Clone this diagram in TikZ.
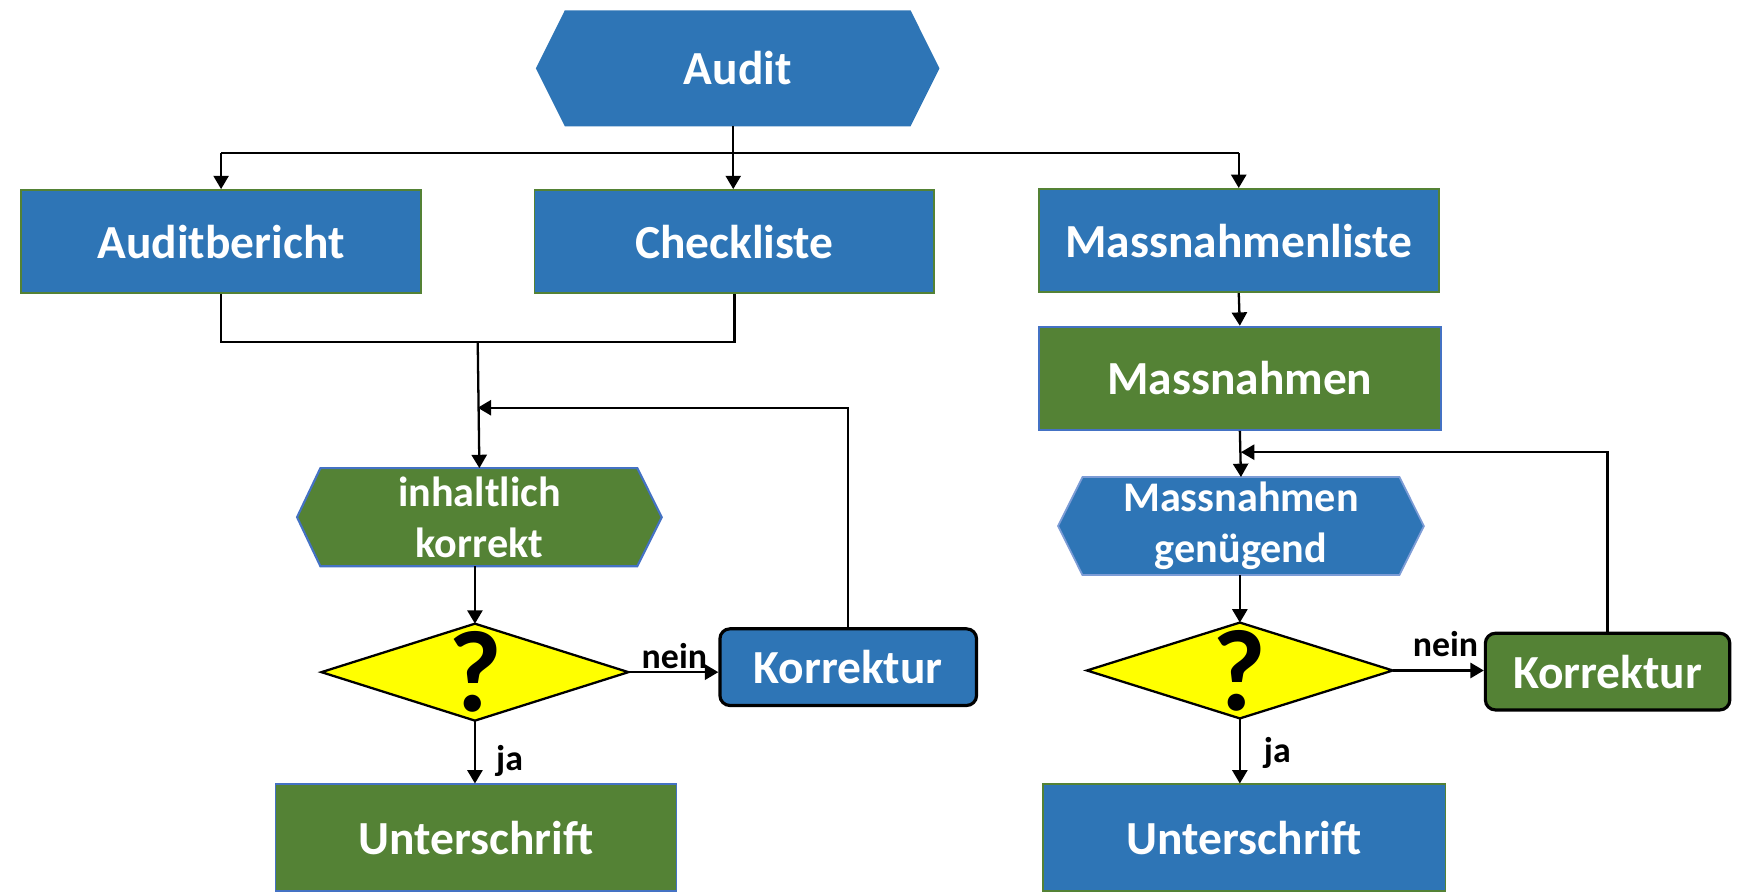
\documentclass[tikz,border=0pt]{standalone}
\usepackage{fontspec}
\setmainfont{Carlito}
\usetikzlibrary{arrows.meta,backgrounds,calc}
\definecolor{cblue}{RGB}{46,117,182}
\definecolor{cgreen}{RGB}{84,130,53}
\definecolor{bblue}{RGB}{68,114,196}
\definecolor{cyel}{RGB}{255,255,0}
\begin{document}
\begin{tikzpicture}[x=0.011111cm,y=-0.011111cm,
  nd/.style={inner sep=0pt,text=white,align=center,font=\bfseries\fontsize{13.5}{16}\selectfont},
  bluebox/.style={nd,fill=cblue,draw=cgreen,line width=0.5pt},
  greenbox/.style={nd,fill=cgreen,draw=bblue,line width=0.5pt},
  hexnd/.style={nd,font=\bfseries\fontsize{12}{14.4}\selectfont},
  korr/.style={nd,draw=black,line width=0.9pt,rounded corners=0.1cm},
  dia/.style={inner sep=0pt,text=black,font=\bfseries\fontsize{33}{36}\selectfont},
  lbl/.style={inner sep=0pt,text=black,font=\bfseries\fontsize{10.2}{12}\selectfont},
  line/.style={draw=black,line width=0.65pt},
  arr/.style={line,-{Triangle[length=3.8pt,width=4.3pt]}},
  wh/.style 2 args={minimum width=#1*0.011111cm,minimum height=#2*0.011111cm}
]
\useasboundingbox (0,0) rectangle (1568,804.6);
% nodes
\node[nd,wh={362}{103}] (audit) at (664,61.5) {Audit};
\node[bluebox,wh={360}{93}] (bericht) at (199,217.5) {Auditbericht};
\node[bluebox,wh={360}{93}] (check) at (661,217.5) {Checkliste};
\node[bluebox,wh={360}{93}] (mliste) at (1115,216.5) {Massnahmenliste};
\node[greenbox,wh={362}{93}] (mn) at (1116,340.5) {Massnahmen};
\node[hexnd,wh={327}{87}] (ik) at (431.5,465.5) {inhaltlich\\korrekt};
\node[hexnd,wh={328}{87}] (mg) at (1117,473.5) {Massnahmen\\genügend};
\node[dia,wh={275}{86}] (d1) at (427.5,605) {?};
\node[korr,fill=cblue,wh={231}{69}] (k1) at (763.5,600.5) {Korrektur};
\node[greenbox,wh={361}{96}] (u1) at (428.5,754) {Unterschrift};
\node[dia,wh={274}{85}] (d2) at (1116,603.5) {?};
\node[korr,fill=cgreen,wh={220}{69}] (k2) at (1447,604.5) {Korrektur};
\node[bluebox,wh={362}{96}] (u2) at (1120,754) {Unterschrift};
% background shapes
\begin{scope}[on background layer]
\fill[cblue] (audit.west) -- ($(audit.north west)+(26,0)$) -- ($(audit.north east)+(-26,0)$) -- (audit.east) -- ($(audit.south east)+(-26,0)$) -- ($(audit.south west)+(26,0)$) -- cycle;
\path[fill=cgreen,draw=bblue,line width=0.6pt] (ik.west) -- ($(ik.north west)+(21,0)$) -- ($(ik.north east)+(-22,0)$) -- (ik.east) -- ($(ik.south east)+(-22,0)$) -- ($(ik.south west)+(21,0)$) -- cycle;
\path[fill=cblue,draw=bblue!70,line width=0.5pt] (mg.west) -- ($(mg.north west)+(22,0)$) -- ($(mg.north east)+(-22,0)$) -- (mg.east) -- ($(mg.south east)+(-22,0)$) -- ($(mg.south west)+(22,0)$) -- cycle;
\path[fill=cyel,draw=black,line width=0.65pt] (d1.west) -- (d1.north) -- (d1.east) -- (d1.south) -- cycle;
\path[fill=cyel,draw=black,line width=0.65pt] (d2.west) -- (d2.north) -- (d2.east) -- (d2.south) -- cycle;
\end{scope}
% connectors top
\coordinate (j1) at (660,138);
\draw[line] (audit.south -| j1) -- (j1);
\draw[line] (j1 -| bericht.north) -- (j1 -| mliste.north);
\draw[arr] (j1 -| bericht.north) -- (bericht.north);
\draw[arr] (j1) -- (check.north -| j1);
\draw[arr] (j1 -| mliste.north) -- (mliste.north);
% left branch
\coordinate (j2) at (430,308);
\draw[line] (bericht.south) -- (bericht.south |- j2) -- (check.south |- j2) -- (check.south);
\draw[arr] (j2) -- (ik.north);
\coordinate (fb1) at (0,367);
\draw[arr] (k1.north) |- (j2 |- fb1);
\draw[arr] (ik.south -| d1.north) -- (d1.north);
\draw[arr] (d1.east) -- (d1.east -| k1.west);
\node[lbl,anchor=south west] (n1) at (577,603) {nein};
\draw[arr] (d1.south) -- (u1.north -| d1.south);
\node[lbl,anchor=west] (ja1) at (446,685) {ja};
% right branch
\draw[arr] (mliste.south) -- (mn.north);
\draw[arr] (mn.south) -- (mg.north);
\coordinate (fb2) at (0,407);
\draw[arr] (k2.north) |- (mg.north |- fb2);
\draw[arr] (mg.south -| d2.north) -- (d2.north);
\draw[arr] (d2.east) -- (d2.east -| k2.west);
\node[lbl,anchor=south west] (n2) at (1271,592) {nein};
\draw[arr] (d2.south) -- (u2.north -| d2.south);
\node[lbl,anchor=west] (ja2) at (1137,678) {ja};
\end{tikzpicture}
\end{document}
